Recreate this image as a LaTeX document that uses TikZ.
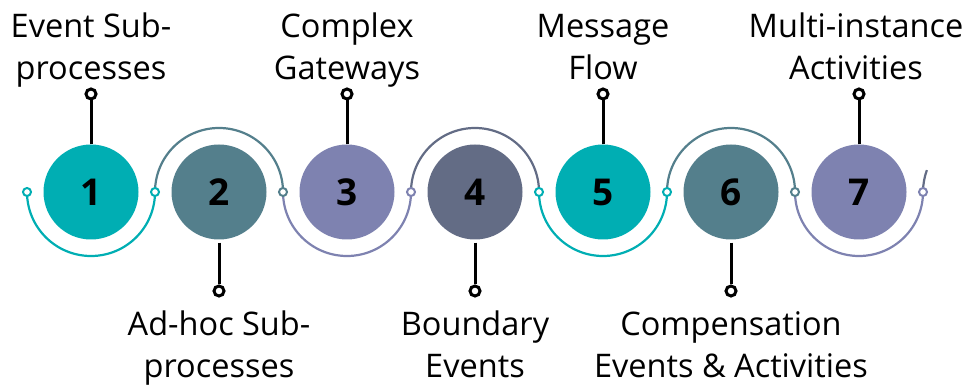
\documentclass[tikz,border=0pt]{standalone}
\usepackage{fontspec}
\setmainfont{Open Sans}
\usetikzlibrary{positioning}
\definecolor{cteal}{HTML}{00AEB3}
\definecolor{cslate}{HTML}{547F8C}
\definecolor{cpurple}{HTML}{7E82B0}
\definecolor{cdark}{HTML}{636C85}
\tikzstyle{num}=[circle,minimum size=95pt,inner sep=0pt,font=\fontsize{37}{40}\selectfont\bfseries]
\tikzstyle{ring}=[circle,fill=white,line width=2pt,minimum size=8pt,inner sep=0pt]
\tikzstyle{knob}=[circle,draw=black,fill=white,line width=3pt,minimum size=10pt,inner sep=0pt]
\tikzstyle{stemline}=[line width=3pt]
\tikzstyle{arcline}=[line width=2.2pt]
\tikzstyle{lbl}=[align=center,inner sep=0pt,font=\fontsize{32.5}{42}\selectfont]

\begin{document}
\begin{tikzpicture}[x=1pt,y=1pt]
\useasboundingbox (0,0) rectangle (968,385);
\node[num,fill=cteal] (c1) at (91,193) {1};
\node[num,fill=cslate] (c2) at (219,193) {2};
\node[num,fill=cpurple] (c3) at (347,193) {3};
\node[num,fill=cdark] (c4) at (475,193) {4};
\node[num,fill=cteal] (c5) at (603,193) {5};
\node[num,fill=cslate] (c6) at (731,193) {6};
\node[num,fill=cpurple] (c7) at (859,193) {7};
\coordinate (d0) at (27,193); \coordinate (d1) at (155,193); \coordinate (d2) at (283,193); \coordinate (d3) at (411,193);
\coordinate (d4) at (539,193); \coordinate (d5) at (667,193); \coordinate (d6) at (795,193); \coordinate (d7) at (923,193);
\draw[arcline,cteal] (d0) arc[start angle=180,end angle=360,radius=64];
\draw[arcline,cslate] (d1) arc[start angle=180,end angle=0,radius=64];
\draw[arcline,cpurple] (d2) arc[start angle=180,end angle=360,radius=64];
\draw[arcline,cdark] (d3) arc[start angle=180,end angle=0,radius=64];
\draw[arcline,cteal] (d4) arc[start angle=180,end angle=360,radius=64];
\draw[arcline,cslate] (d5) arc[start angle=180,end angle=0,radius=64];
\draw[arcline,cpurple] (d6) arc[start angle=180,end angle=360,radius=64];
\draw[arcline,cdark] (d7) arc[start angle=180,end angle=160,radius=64];
\node[ring,draw=cteal] (r0) at (d0) {}; \node[ring,draw=cteal] (r1) at (d1) {};
\node[ring,draw=cslate] (r2) at (d2) {}; \node[ring,draw=cpurple] (r3) at (d3) {};
\node[ring,draw=cteal] (r4) at (d4) {}; \node[ring,draw=cteal] (r5) at (d5) {};
\node[ring,draw=cslate] (r6) at (d6) {}; \node[ring,draw=cpurple] (r7) at (d7) {};
\node[knob] (t1) at (91,291) {}; \node[knob] (t3) at (347,291) {}; \node[knob] (t5) at (603,291) {}; \node[knob] (t7) at (859,291) {};
\node[knob] (b2) at (219,94) {}; \node[knob] (b4) at (475,94) {}; \node[knob] (b6) at (731,94) {};
\draw[stemline] (c1.north) -- (t1.south); \draw[stemline] (c3.north) -- (t3.south);
\draw[stemline] (c5.north) -- (t5.south); \draw[stemline] (c7.north) -- (t7.south);
\draw[stemline,shorten <=3pt] (c2.south) -- (b2.north); \draw[stemline,shorten <=3pt] (c4.south) -- (b4.north);
\draw[stemline,shorten <=3pt] (c6.south) -- (b6.north);
\node[lbl,above=-5pt of t1] (lab1) {Event Sub-\strut\\processes\strut};
\node[lbl,above=-5pt of t3] (lab3) {Complex\strut\\Gateways\strut};
\node[lbl,above=-5pt of t5] (lab5) {Message\strut\\Flow\strut};
\node[lbl,above=-5pt of t7,xshift=-3pt] (lab7) {Multi-instance\strut\\Activities\strut};
\node[lbl,below=8pt of b2] (lab2) {Ad-hoc Sub-\strut\\processes};
\node[lbl,below=8pt of b4] (lab4) {Boundary\strut\\Events};
\node[lbl,below=8pt of b6] (lab6) {Compensation\strut\\Events \& Activities};
\end{tikzpicture}
\end{document}
